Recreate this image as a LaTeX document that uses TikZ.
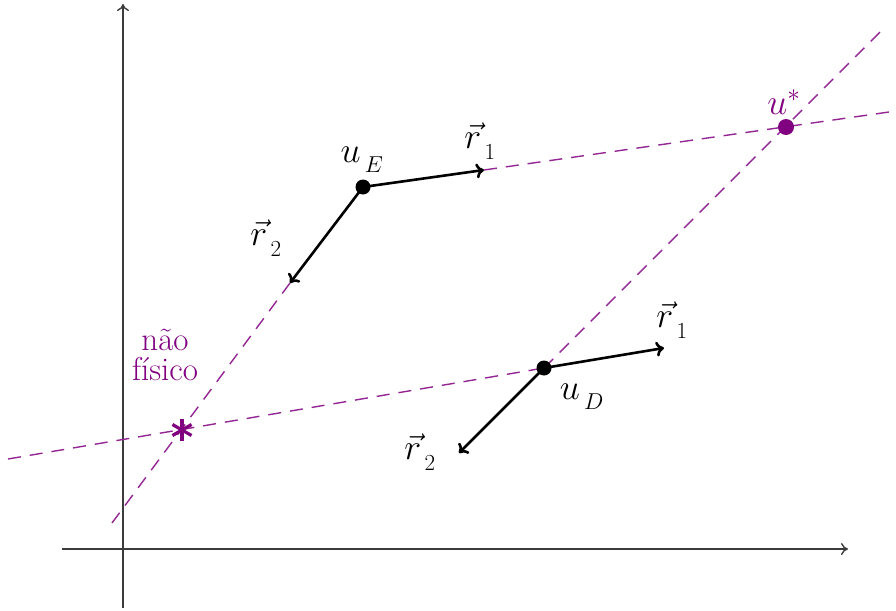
\RequirePackage{fix-cm}
\documentclass[tikz,border=0pt]{standalone}
\usepackage{fontspec}
\usetikzlibrary{arrows.meta,calc}
\definecolor{pur}{RGB}{128,0,128}
\definecolor{axgray}{RGB}{60,60,60}
\newcommand{\sss}[1]{{\,\lower5pt\hbox{\fontsize{23}{23}\selectfont$#1$}}}
\begin{document}
\begin{tikzpicture}[x=1pt,y=-1pt,
  font=\fontsize{36}{42}\selectfont,
  axis/.style={draw=axgray,line width=1.4pt,-{To[length=7pt,width=12pt]}},
  vec/.style={draw=black,line width=2.6pt,-{To[length=8pt,width=15pt]}},
  dline/.style={draw=pur!85,line width=1.4pt,dash pattern=on 13pt off 9pt},
  dotk/.style={circle,fill=black,inner sep=0pt,minimum size=15pt},
  dotp/.style={circle,fill=pur,inner sep=0pt,minimum size=16pt},
  lbl/.style={inner sep=0pt}]
\useasboundingbox (0,0) rectangle (896,610);
% axes
\coordinate (yb) at (123,608);
\coordinate (yt) at (123,4);
\coordinate (xl) at (62,549);
\coordinate (xr) at (848,549);
\draw[axis] (yb) -- (yt);
\draw[axis] (xl) -- (xr);
% points
\coordinate (uE) at (363,187);
\coordinate (uEr1) at (484,170);
\coordinate (uEr2) at (290,283);
\coordinate (uD) at (544,368);
\coordinate (uDr1) at (664,348);
\coordinate (uDr2) at (459,453);
\coordinate (us) at (786,127);
\coordinate (np) at (182,430);
\coordinate (e1) at (896,111);
\coordinate (e2) at (112,523);
\coordinate (d1) at (8,459);
\coordinate (d2) at (880,32);
% dashed lines
\draw[dline] (uEr1) -- (e1);
\draw[dline] (uEr2) -- (e2);
\draw[dline] (d1) -- (uD);
\draw[dline] (uD) -- (d2);
% vectors
\draw[vec] (uE) -- (uEr1);
\draw[vec] (uE) -- (uEr2);
\draw[vec] (uD) -- (uDr1);
\draw[vec] (uD) -- (uDr2);
% dots
\node[dotk] (nuE) at (uE) {};
\node[dotk] (nuD) at (uD) {};
\node[dotp] (nus) at (us) {};
% asterisk
\foreach \a in {90,210,330}{
  \draw[pur,line width=3.2pt] ($(np)+(\a:-11pt)$) -- ($(np)+(\a:11pt)$);
}
% labels
\node[lbl] (luE) at (362,160) {$u_{\sss{E}}$};
\node[lbl] (lr1a) at (480,141) {$\vec{r}_{\sss{1}}$};
\node[lbl] (lr2a) at (266,238) {$\vec{r}_{\sss{2}}$};
\node[lbl,text=pur] (lus) at (784,102) {$u^{*}$};
\node[lbl] (lr1b) at (672,320) {$\vec{r}_{\sss{1}}$};
\node[lbl] (luD) at (582,397) {$u_{\sss{D}}$};
\node[lbl] (lr2b) at (420,452) {$\vec{r}_{\sss{2}}$};
\node[lbl,text=pur,align=center,font=\fontsize{33}{30}\selectfont] (lnp) at (165,355) {não\\físico};
\end{tikzpicture}
\end{document}
